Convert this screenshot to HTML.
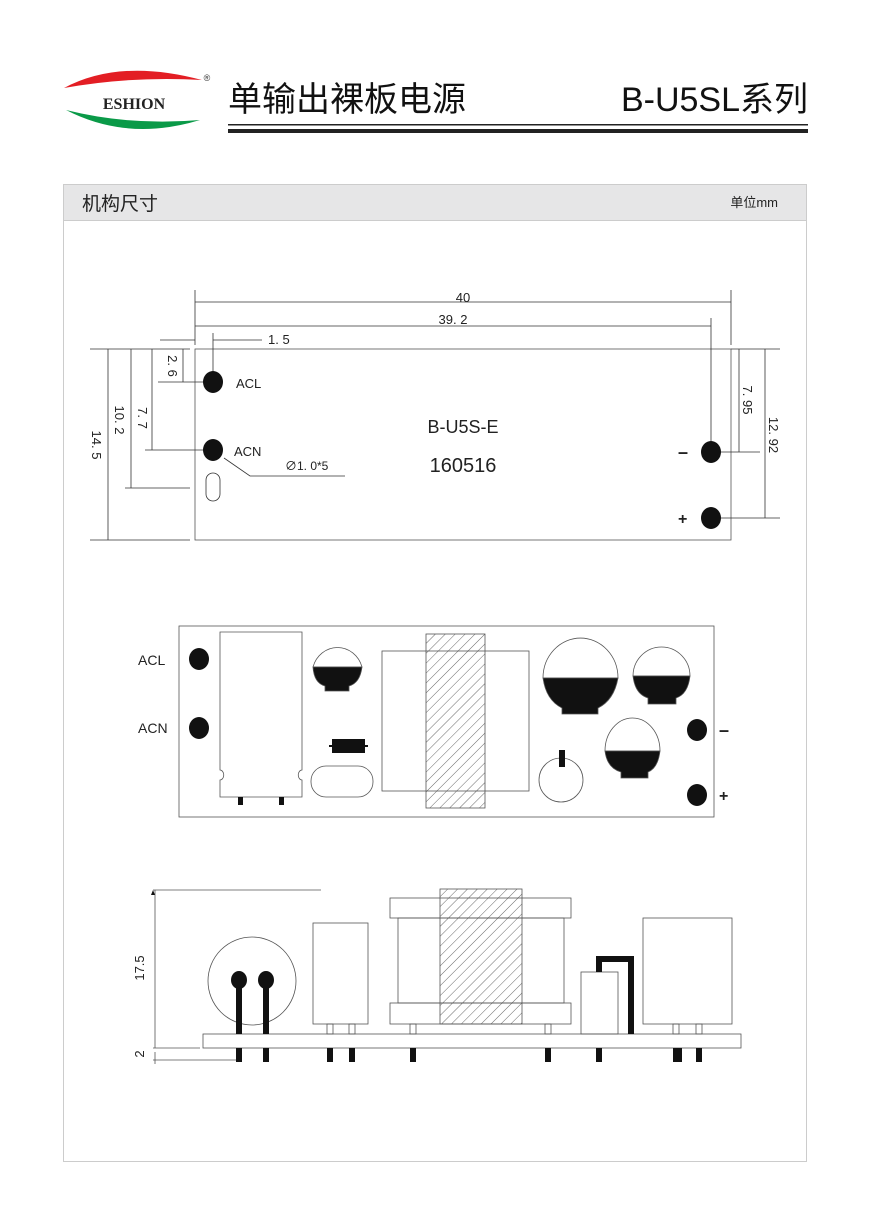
<!DOCTYPE html>
<html><head><meta charset="utf-8"><style>
html,body{margin:0;padding:0;background:#fff;}
svg{display:block;}
</style></head><body>
<svg width="870" height="1230" viewBox="0 0 870 1230" xmlns="http://www.w3.org/2000/svg" font-family="'Liberation Sans','Noto Sans CJK SC',sans-serif">
<defs>
<pattern id="h" patternUnits="userSpaceOnUse" width="7" height="7" patternTransform="rotate(45)">
<line x1="0" y1="0" x2="0" y2="7" stroke="#444" stroke-width="0.8"/>
</pattern>
</defs>
<rect width="870" height="1230" fill="#fff"/>
<!-- logo -->
<path d="M64 88 Q120 58 202 80 Q130 76 64 88Z" fill="#e31e24"/>
<path d="M66 110 Q128 142 200 120 Q130 126 66 110Z" fill="#0a9a48"/>
<text x="134" y="109" font-family="'Liberation Serif',serif" font-weight="bold" font-size="16" text-anchor="middle" fill="#222">ESHION</text>
<text x="207" y="81" font-size="9" text-anchor="middle" fill="#333">®</text>
<text x="228" y="111" font-size="34" fill="#111">单输出裸板电源</text>
<text x="808" y="111" font-size="34" fill="#111" text-anchor="end">B-U5SL系列</text>
<rect x="228" y="124" width="580" height="1.5" fill="#222"/>
<rect x="228" y="129" width="580" height="4" fill="#222"/>
<!-- section -->
<rect x="63.5" y="184.5" width="743" height="977" fill="none" stroke="#ccc"/>
<rect x="64" y="185" width="742" height="35" fill="#e6e6e7"/>
<line x1="64" y1="220.5" x2="806" y2="220.5" stroke="#ccc"/>
<text x="82" y="210" font-size="19" fill="#222">机构尺寸</text>
<text x="778" y="207" font-size="13" fill="#222" text-anchor="end">单位mm</text>

<g stroke="#333" stroke-width="0.8" fill="none">
<!-- diagram 1 -->
<rect x="195" y="349" width="536" height="191" stroke="#555"/>
<line x1="195" y1="290" x2="195" y2="345"/><line x1="731" y1="290" x2="731" y2="345"/>
<line x1="195" y1="302" x2="731" y2="302"/>
<line x1="195" y1="326" x2="711" y2="326"/>
<line x1="711" y1="318" x2="711" y2="452"/>
<line x1="160" y1="340" x2="195" y2="340"/><line x1="213" y1="340" x2="262" y2="340"/>
<line x1="213" y1="333" x2="213" y2="382"/>
<line x1="90" y1="349" x2="190" y2="349"/>
<line x1="158" y1="382" x2="213" y2="382"/>
<line x1="145" y1="450" x2="213" y2="450"/>
<line x1="125" y1="488" x2="190" y2="488"/>
<line x1="90" y1="540" x2="190" y2="540"/>
<line x1="108" y1="349" x2="108" y2="540"/>
<line x1="131" y1="349" x2="131" y2="488"/>
<line x1="152" y1="349" x2="152" y2="450"/>
<line x1="183" y1="349" x2="183" y2="382"/>
<line x1="731" y1="349" x2="780" y2="349"/>
<line x1="711" y1="452" x2="760" y2="452"/>
<line x1="711" y1="518" x2="780" y2="518"/>
<line x1="739" y1="349" x2="739" y2="452"/>
<line x1="765" y1="349" x2="765" y2="518"/>
<polyline points="224,458 250,476 345,476"/>
<rect x="206" y="473" width="14" height="28" rx="7"/>
</g>
<g fill="#111">
<ellipse cx="213" cy="382" rx="10" ry="11"/>
<ellipse cx="213" cy="450" rx="10" ry="11"/>
<ellipse cx="711" cy="452" rx="10" ry="11"/>
<ellipse cx="711" cy="518" rx="10" ry="11"/>
</g>
<g font-size="13" fill="#222">
<text x="463" y="302" text-anchor="middle" font-size="13">40</text>
<text x="453" y="324" text-anchor="middle" font-size="13">39. 2</text>
<text x="268" y="344" font-size="13">1. 5</text>
<text x="236" y="388">ACL</text>
<text x="234" y="456">ACN</text>
<text x="285" y="470" font-size="12">∅1. 0*5</text>
<text x="463" y="433" text-anchor="middle" font-size="18">B-U5S-E</text>
<text x="463" y="472" text-anchor="middle" font-size="20">160516</text>
<text x="678" y="458" font-size="18" font-weight="bold">–</text>
<text x="678" y="524" font-size="16" font-weight="bold">+</text>
<text transform="translate(92,445) rotate(90)" text-anchor="middle" font-size="13">14. 5</text>
<text transform="translate(115,420) rotate(90)" text-anchor="middle" font-size="13">10. 2</text>
<text transform="translate(138,418) rotate(90)" text-anchor="middle" font-size="13">7. 7</text>
<text transform="translate(168,366) rotate(90)" text-anchor="middle" font-size="13">2. 6</text>
<text transform="translate(743,400) rotate(90)" text-anchor="middle" font-size="13">7. 95</text>
<text transform="translate(769,435) rotate(90)" text-anchor="middle" font-size="13">12. 92</text>
</g>

<!-- diagram 2 -->
<g stroke="#555" stroke-width="0.8" fill="none">
<rect x="179" y="626" width="535" height="191"/>
<path d="M220 632 H302 V770 a3 4 0 0 0 0 10 V797 H220 V780 a3 4 0 0 0 0-10Z"/>
<rect x="311" y="766" width="62" height="31" rx="15"/>
<rect x="382" y="651" width="147" height="140"/>
<circle cx="561" cy="780" r="22"/>
</g>
<rect x="426" y="634" width="59" height="174" fill="url(#h)" stroke="#555" stroke-width="0.8"/>
<g fill="#111">
<ellipse cx="199" cy="659" rx="10" ry="11"/>
<ellipse cx="199" cy="728" rx="10" ry="11"/>
<ellipse cx="697" cy="730" rx="10" ry="11"/>
<ellipse cx="697" cy="795" rx="10" ry="11"/>
<rect x="238" y="797" width="5" height="8"/><rect x="279" y="797" width="5" height="8"/>
<rect x="332" y="739" width="33" height="14"/><rect x="329" y="745" width="39" height="2"/>
<rect x="559" y="750" width="6" height="17"/>
</g>
<g stroke="#555" stroke-width="0.8">
<path d="M313 667 A25.5 27 0 0 1 362 667Z" fill="none"/>
<path d="M313 667 H362 Q360 683 349 686 V691 H325 V686 Q314 683 313 667Z" fill="#111"/>
<path d="M543 678 A37.5 40 0 0 1 618 678Z" fill="none"/>
<path d="M543 678 H618 Q614 700 598 708 V714 H562 V708 Q546 700 543 678Z" fill="#111"/>
<path d="M633 676 A28.5 29 0 0 1 690 676Z" fill="none"/>
<path d="M633 676 H690 Q688 694 676 698 V704 H648 V698 Q635 694 633 676Z" fill="#111"/>
<path d="M605 751 A27.5 33 0 0 1 660 751Z" fill="none"/>
<path d="M605 751 H660 Q658 768 648 772 V778 H621 V772 Q607 768 605 751Z" fill="#111"/>
</g>
<g font-size="14" fill="#222">
<text x="138" y="665">ACL</text>
<text x="138" y="733">ACN</text>
<text x="719" y="736" font-size="18" font-weight="bold">–</text>
<text x="719" y="801" font-size="16" font-weight="bold">+</text>
</g>

<!-- diagram 3 -->
<g stroke="#555" stroke-width="0.8" fill="none">
<line x1="153" y1="890" x2="321" y2="890"/>
<line x1="155" y1="890" x2="155" y2="1048"/>
<line x1="155" y1="1052" x2="155" y2="1064"/>
<line x1="153" y1="1048" x2="200" y2="1048"/>
<line x1="153" y1="1060" x2="237" y2="1060"/>
<rect x="203" y="1034" width="538" height="14"/>
<ellipse cx="252" cy="981" rx="44" ry="44"/>
<rect x="313" y="923" width="55" height="101"/>
<rect x="327" y="1024" width="6" height="10"/><rect x="349" y="1024" width="6" height="10"/>
<rect x="390" y="898" width="181" height="20"/>
<rect x="390" y="1003" width="181" height="21"/>
<rect x="398" y="918" width="166" height="85"/>
<rect x="410" y="1024" width="6" height="10"/><rect x="545" y="1024" width="6" height="10"/>
<rect x="581" y="972" width="37" height="62"/>
<rect x="643" y="918" width="89" height="106"/>
<rect x="673" y="1024" width="6" height="10"/><rect x="696" y="1024" width="6" height="10"/>
</g>
<rect x="440" y="889" width="82" height="135" fill="url(#h)" stroke="#555" stroke-width="0.8"/>
<g fill="#111">
<polygon points="153,890 151,895 155,895"/>
<ellipse cx="239" cy="980" rx="8" ry="9"/><ellipse cx="266" cy="980" rx="8" ry="9"/>
<rect x="236" y="980" width="6" height="54"/><rect x="263" y="980" width="6" height="54"/>
<rect x="236" y="1048" width="6" height="14"/><rect x="263" y="1048" width="6" height="14"/>
<rect x="327" y="1048" width="6" height="14"/><rect x="349" y="1048" width="6" height="14"/>
<rect x="410" y="1048" width="6" height="14"/><rect x="545" y="1048" width="6" height="14"/>
<rect x="596" y="1048" width="6" height="14"/>
<rect x="673" y="1048" width="9" height="14"/><rect x="696" y="1048" width="6" height="14"/>
<path d="M596 956 H634 V1034 H628 V962 H602 V972 H596Z"/>
</g>
<g font-size="13" fill="#222">
<text transform="translate(144,968) rotate(-90)" text-anchor="middle">17.5</text>
<text transform="translate(144,1054) rotate(-90)" text-anchor="middle">2</text>
</g>
</svg>
</body></html>
